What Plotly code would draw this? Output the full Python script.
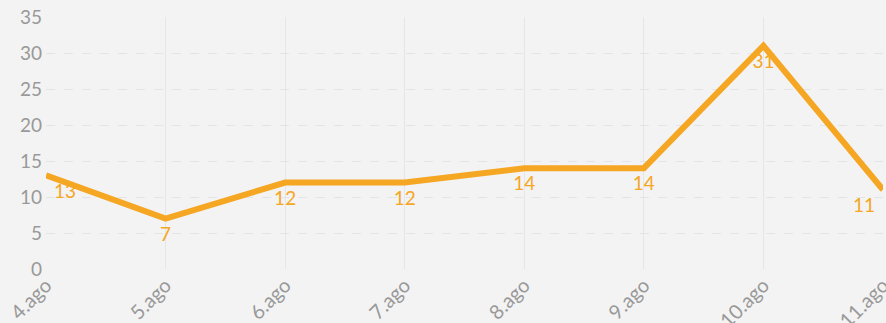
import plotly.graph_objects as go

days = ["4.ago", "5.ago", "6.ago", "7.ago", "8.ago", "9.ago", "10.ago", "11.ago"]
counts = [13, 7, 12, 12, 14, 14, 31, 11]
y_ticks = [0, 5, 10, 15, 20, 25, 30, 35]

# keep the end labels inside the plot area
positions = ["bottom right"] + ["bottom center"] * (len(days) - 2) + ["bottom left"]

fig = go.Figure(
    go.Scatter(
        x=days,
        y=counts,
        mode="lines+markers+text",
        text=[str(v) for v in counts],
        textposition=positions,
        textfont=dict(color="#f5a623", size=19, family="Lato"),
        line=dict(color="#f5a623", width=6),
        marker=dict(size=11, color="rgba(0,0,0,0)"),
        cliponaxis=False,
        hoverinfo="x+y",
    )
)

fig.update_layout(
    width=886,
    height=323,
    margin=dict(l=46, r=3, t=17, b=54),
    paper_bgcolor="#f3f3f3",
    plot_bgcolor="#f3f3f3",
    showlegend=False,
    font=dict(family="Lato", color="#999999", size=19),
)
fig.update_xaxes(
    type="category",
    range=[0, len(days) - 1],
    tickangle=-45,
    automargin=False,
    showgrid=True,
    gridcolor="#e6e6e6",
    gridwidth=1,
    zeroline=False,
    showline=False,
    ticks="",
    tickfont=dict(size=20, color="#999999"),
)
fig.update_yaxes(
    range=[0, 35],
    tickvals=y_ticks,
    automargin=False,
    showgrid=True,
    gridcolor="#e4e4e4",
    griddash="dash",
    gridwidth=1,
    zeroline=False,
    showline=False,
    ticks="",
    ticklabelstandoff=3,
    tickfont=dict(size=19, color="#999999"),
)

fig.write_html("out.html")
